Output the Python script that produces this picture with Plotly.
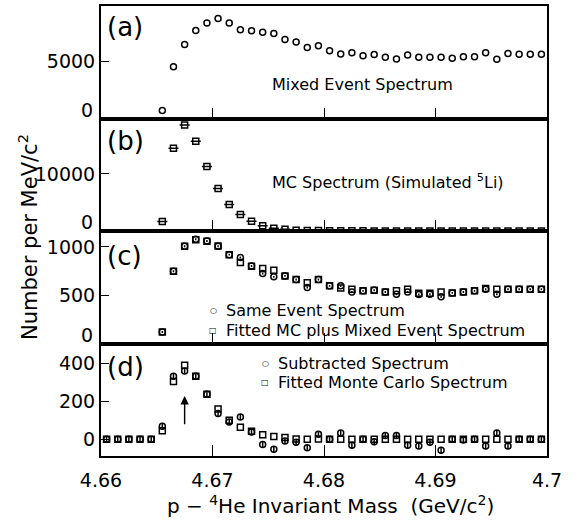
import plotly.graph_objects as go
from plotly.subplots import make_subplots

# bin centres (GeV/c^2)
mass = [4.6605, 4.6615, 4.6625, 4.6635, 4.6645, 4.6655, 4.6665, 4.6675, 4.6685, 4.6695,
        4.6705, 4.6715, 4.6725, 4.6735, 4.6745, 4.6755, 4.6765, 4.6775, 4.6785, 4.6795,
        4.6805, 4.6815, 4.6825, 4.6835, 4.6845, 4.6855, 4.6865, 4.6875, 4.6885, 4.6895,
        4.6905, 4.6915, 4.6925, 4.6935, 4.6945, 4.6955, 4.6965, 4.6975, 4.6985, 4.6995]
mass_hi = mass[5:]

# (a) mixed event spectrum
mixed = [700, 4500, 6450, 7650, 8300, 8700, 8300, 7720, 7640, 7500,
         7400, 6880, 6650, 6170, 6320, 5900, 5620, 5730, 5460, 5580,
         5330, 5180, 5520, 5320, 5320, 5320, 5240, 5380, 5380, 5720,
         5150, 5660, 5600, 5600, 5600]

# (b) MC spectrum (simulated 5Li)
mc = [1650, 14500, 18600, 15750, 11300, 7450, 4650, 2900, 1700, 900,
      480, 300, 130, 90, 70, 50, 40, 30, 25, 20,
      15, 15, 10, 10, 10, 8, 8, 6, 6, 5,
      5, 5, 5, 5, 5]

# (c) same event spectrum and fitted MC + mixed
same_evt = [120, 748, 1007, 1079, 1062, 1007, 920, 890, 803, 724,
            690, 700, 662, 579, 662, 597, 597, 534, 545, 552,
            534, 510, 534, 507, 510, 483, 524, 534, 545, 562,
            510, 562, 562, 562, 562]
fit_sum = [120, 748, 1007, 1075, 1060, 1010, 920, 838, 800, 776,
           759, 700, 662, 628, 662, 597, 576, 562, 545, 552,
           534, 545, 562, 520, 520, 534, 524, 534, 545, 570,
           562, 562, 562, 562, 562]

# (d) subtracted spectrum and fitted Monte Carlo
subtracted = [0, 0, 0, 0, 0, 69, 333, 360, 333, 238,
              136, 91, 118, 38, -27, -53, -9, -16, -45, 27,
              0, 33, -31, 0, -13, 20, 20, -31, -35, -16,
              -58, 0, -4, 0, -35, 33, -35, 0, 0, 0]
fit_mc = [0, 0, 0, 0, 0, 45, 305, 391, 333, 238,
          160, 100, 64, 42, 24, 15, 9, 2, 0, 2,
          0, 0, 0, 0, 0, 0, 0, 0, 0, 0,
          0, 0, 0, 0, 0, 0, 0, 0, 0, 0]

x_ticks = [4.66, 4.67, 4.68, 4.69, 4.70]
x_ticktext = ["4.66", "4.67", "4.68", "4.69", "4.7"]
y_ranges = [[0, 9790], [0, 19720], [0, 1165], [-88, 505]]
# tick values drawn by the axes (the "0" at each panel bottom is set separately)
y_ticks = [[5000], [10000], [500, 1000], [0, 200, 400]]
y_ticktext = [["5000"], ["10000"], ["500", "1000"], ["0", "200", "400"]]

FONT = "DejaVu Sans"
W, H = 577, 523
L, R, T, B = 101, 30, 4, 67
PW, PH = W - L - R, H - T - B


def px(xa):
    return (xa - L) / PW


def py(ya):
    return (H - B - ya) / PH


fig = make_subplots(rows=4, cols=1, shared_xaxes=True, vertical_spacing=0)

circ = dict(symbol="circle-open", size=6, color="black", line=dict(width=1.5, color="black"))
sq = dict(symbol="square-open", size=6, color="black", line=dict(width=1.5, color="black"))

fig.add_trace(go.Scatter(x=mass_hi, y=mixed, mode="markers", marker=circ), row=1, col=1)
fig.add_trace(go.Scatter(x=mass_hi, y=mc, mode="markers", marker=sq,
                         error_x=dict(type="constant", value=0.00045, width=0, thickness=1.5, color="black")),
              row=2, col=1)
fig.add_trace(go.Scatter(x=mass_hi, y=fit_sum, mode="markers", marker=sq), row=3, col=1)
fig.add_trace(go.Scatter(x=mass_hi, y=same_evt, mode="markers", marker=circ,
                         error_y=dict(type="constant", value=10, width=0, thickness=1.5, color="black")),
              row=3, col=1)
fig.add_trace(go.Scatter(x=mass, y=fit_mc, mode="markers", marker=sq), row=4, col=1)
fig.add_trace(go.Scatter(x=mass, y=subtracted, mode="markers", marker=circ,
                         error_y=dict(type="constant", value=16, width=0, thickness=1.5, color="black")),
              row=4, col=1)

for i in range(4):
    n = "" if i == 0 else str(i + 1)
    fig.layout["xaxis" + n].update(
        range=[4.66, 4.70], tickvals=x_ticks, ticktext=x_ticktext,
        ticks="inside", ticklen=11, tickwidth=1.2, tickcolor="black",
        showline=True, linewidth=2, linecolor="black", mirror=True,
        showgrid=False, zeroline=False, showticklabels=(i == 3),
        tickfont=dict(family=FONT, size=19, color="black"))
    fig.layout["yaxis" + n].update(
        range=y_ranges[i], tickvals=y_ticks[i], ticktext=y_ticktext[i],
        ticks="inside", ticklen=8, tickwidth=1.2, tickcolor="black",
        showline=True, linewidth=2, linecolor="black", mirror=True,
        showgrid=False, zeroline=False,
        tickfont=dict(family=FONT, size=19, color="black"))

fig.layout.xaxis4.ticklabelstandoff = 6

ann = []
# "0" labels at the bottom of panels a-c, sitting just above each boundary
for yb in [117, 230, 343]:
    ann.append(dict(text="0", x=px(95), y=py(yb - 9), xref="paper", yref="paper",
                    xanchor="right", yanchor="middle", showarrow=False,
                    font=dict(family=FONT, size=19, color="black")))

for lab, yc in [("(a)", 25), ("(b)", 140), ("(c)", 255), ("(d)", 367)]:
    ann.append(dict(text=lab, x=px(105), y=py(yc), xref="paper", yref="paper",
                    xanchor="left", yanchor="middle", showarrow=False,
                    font=dict(family=FONT, size=26, color="black")))

ann.append(dict(text="Mixed Event Spectrum", x=px(270), y=py(83), xref="paper", yref="paper",
                xanchor="left", yanchor="middle", showarrow=False,
                font=dict(family=FONT, size=16, color="black")))
ann.append(dict(text="MC Spectrum (Simulated <sup>5</sup>Li)", x=px(270), y=py(180), xref="paper", yref="paper",
                xanchor="left", yanchor="middle", showarrow=False,
                font=dict(family=FONT, size=16, color="black")))

for sym, txt, xs, yc in [("○", "Same Event Spectrum", 213, 310),
                         ("□", "Fitted MC plus Mixed Event Spectrum", 213, 330),
                         ("○", "Subtracted Spectrum", 265, 363),
                         ("□", "Fitted Monte Carlo Spectrum", 265, 382)]:
    ann.append(dict(text=sym, x=px(xs), y=py(yc), xref="paper", yref="paper",
                    xanchor="center", yanchor="middle", showarrow=False,
                    font=dict(family=FONT, size=8, color="black")))
    ann.append(dict(text=txt, x=px(xs + 11), y=py(yc), xref="paper", yref="paper",
                    xanchor="left", yanchor="middle", showarrow=False,
                    font=dict(family=FONT, size=16, color="black")))

# arrow marking the peak
ann.append(dict(x=4.6675, y=228, ax=4.6675, ay=72, xref="x4", yref="y4", axref="x4", ayref="y4",
                text="", showarrow=True, arrowhead=2, arrowsize=1.2, arrowwidth=1.4, arrowcolor="black"))

# axis titles
ann.append(dict(text="Number per MeV/c<sup>2</sup>", x=px(28), y=py(236), xref="paper", yref="paper",
                textangle=-90, xanchor="center", yanchor="middle", showarrow=False,
                font=dict(family=FONT, size=21, color="black")))
ann.append(dict(text="p − <sup>4</sup>He Invariant Mass  (GeV/c<sup>2</sup>)", x=px(330), y=py(505),
                xref="paper", yref="paper", xanchor="center", yanchor="middle", showarrow=False,
                font=dict(family=FONT, size=20, color="black")))

fig.update_layout(
    width=W, height=H, margin=dict(l=L, r=R, t=T, b=B),
    paper_bgcolor="white", plot_bgcolor="white", showlegend=False,
    annotations=ann, font=dict(family=FONT, color="black"))

fig.write_html("out.html")
